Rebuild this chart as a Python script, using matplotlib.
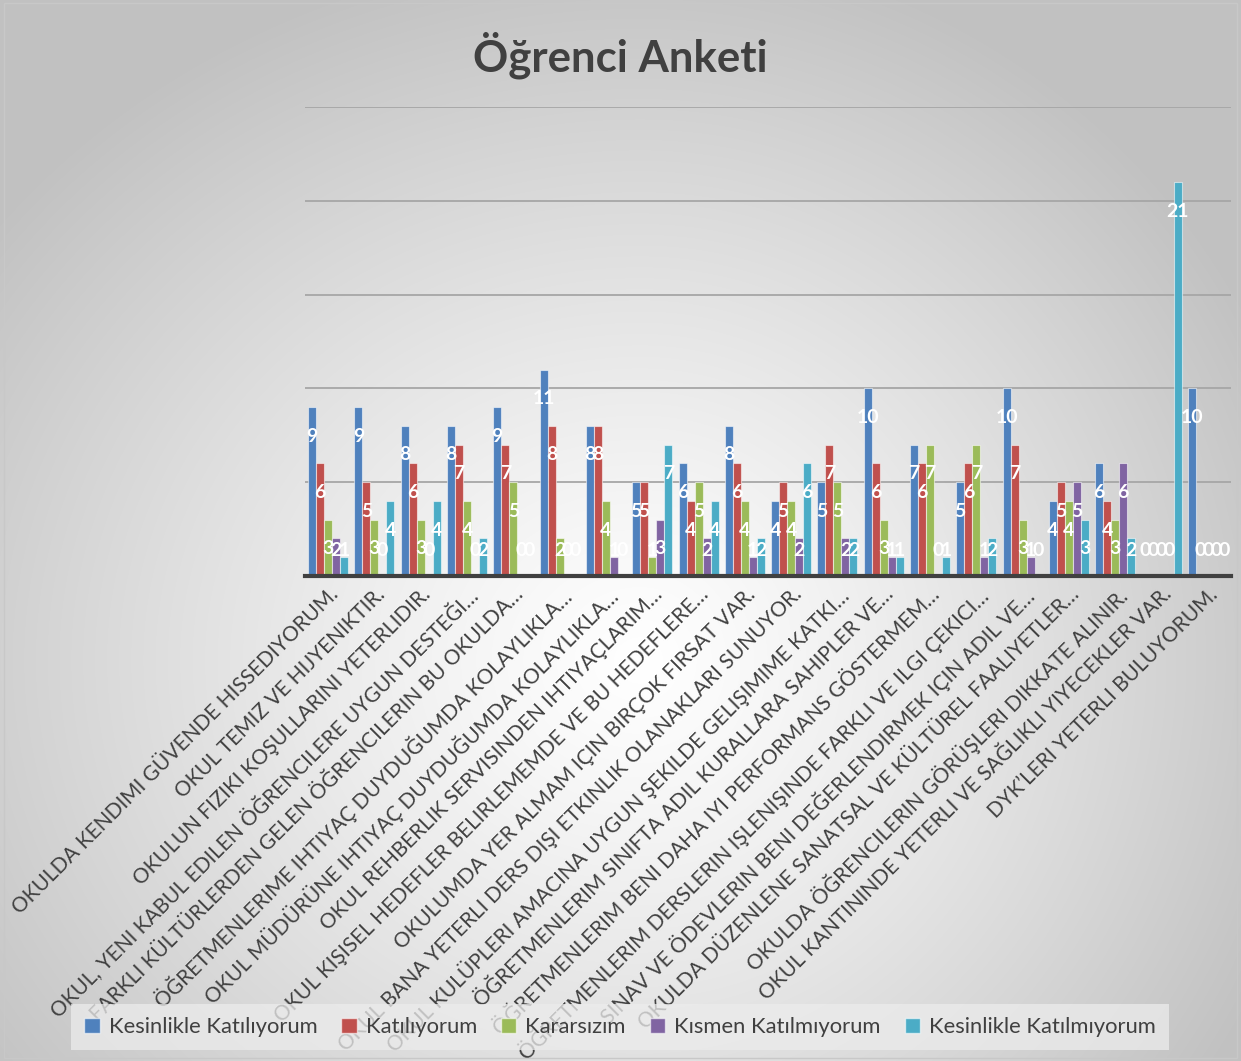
import numpy as np
import matplotlib
matplotlib.use("Agg")
import matplotlib.pyplot as plt
from matplotlib.patches import Patch, Rectangle

plt.rcParams['font.family'] = ['Lato', 'DejaVu Sans']

# survey statements (x axis)
categories = [
    "OKULDA KENDIMI GÜVENDE HISSEDIYORUM.",
    "OKUL TEMIZ VE HIJYENIKTIR.",
    "OKULUN FIZIKI KOŞULLARINI YETERLIDIR.",
    "OKUL, YENI KABUL EDILEN ÖĞRENCILERE UYGUN DESTEĞI…",
    "FARKLI KÜLTÜRLERDEN GELEN ÖĞRENCILERIN BU OKULDA…",
    "ÖĞRETMENLERIME IHTIYAÇ DUYDUĞUMDA KOLAYLIKLA…",
    "OKUL MÜDÜRÜNE IHTIYAÇ DUYDUĞUMDA KOLAYLIKLA…",
    "OKUL REHBERLIK SERVISINDEN IHTIYAÇLARIM…",
    "OKUL KIŞISEL HEDEFLER BELIRLEMEMDE VE BU HEDEFLERE…",
    "OKULUMDA YER ALMAM IÇIN BIRÇOK FIRSAT VAR.",
    "OKUL BANA YETERLI DERS DIŞI ETKINLIK OLANAKLARI SUNUYOR.",
    "OKUL KULÜPLERI AMACINA UYGUN ŞEKILDE GELIŞIMIME KATKI…",
    "ÖĞRETMENLERIM SINIFTA ADIL KURALLARA SAHIPLER VE…",
    "ÖĞRETMENLERIM BENI DAHA IYI PERFORMANS GÖSTERMEM…",
    "ÖĞRETMENLERIM DERSLERIN IŞLENIŞINDE FARKLI VE ILGI ÇEKICI…",
    "SINAV VE ÖDEVLERIN BENI DEĞERLENDIRMEK IÇIN ADIL VE…",
    "OKULDA DÜZENLENE SANATSAL VE KÜLTÜREL FAALIYETLER…",
    "OKULDA ÖĞRENCILERIN GÖRÜŞLERI DIKKATE ALINIR.",
    "OKUL KANTININDE YETERLI VE SAĞLIKLI YIYECEKLER VAR.",
    "DYK’LERI YETERLI BULUYORUM.",
]

series_names = ["Kesinlikle Katılıyorum", "Katılıyorum", "Kararsızım",
                "Kısmen Katılmıyorum", "Kesinlikle Katılmıyorum"]

kesinlikle_katiliyorum = [9, 9, 8, 8, 9, 11, 8, 5, 6, 8, 4, 5, 10, 7, 5, 10, 4, 6, 0, 10]
katiliyorum = [6, 5, 6, 7, 7, 8, 8, 5, 4, 6, 5, 7, 6, 6, 6, 7, 5, 4, 0, 0]
kararsizim = [3, 3, 3, 4, 5, 2, 4, 1, 5, 4, 4, 5, 3, 7, 7, 3, 4, 3, 0, 0]
kismen_katilmiyorum = [2, 0, 0, 0, 0, 0, 1, 3, 2, 1, 2, 2, 1, 0, 1, 1, 5, 6, 0, 0]
kesinlikle_katilmiyorum = [1, 4, 4, 2, 0, 0, 0, 7, 4, 2, 6, 2, 1, 1, 2, 0, 3, 2, 21, 0]

colors = ["#4F81BD", "#C0504D", "#9BBB59", "#8064A2", "#4BACC6"]

series = [kesinlikle_katiliyorum, katiliyorum, kararsizim,
          kismen_katilmiyorum, kesinlikle_katilmiyorum]

W, H = 1241, 1061
fig = plt.figure(figsize=(W / 100, H / 100), dpi=100)

# gradient background (grey corners, white centre)
bg = fig.add_axes([0, 0, 1, 1], zorder=-10)
yy, xx = np.mgrid[0:H, 0:W]
cx, cy = 640, 660
ax_x = np.where(xx > cx, 700, 820)
r = np.sqrt(((xx - cx) / ax_x) ** 2 + ((yy - cy) / 720) ** 2)
shade = 255 - 62 * np.clip(r, 0, 1) ** 1.2
img = np.dstack([shade, shade, shade]) / 255.0
bg.imshow(img, extent=[0, 1, 0, 1], aspect='auto', origin='upper')
bg.set_xlim(0, 1)
bg.set_ylim(0, 1)
bg.add_patch(Rectangle((0.0035, 0.003), 0.993, 0.994, fill=False,
                       edgecolor="#c8c8c8", linewidth=1))
bg.axis('off')

ax = fig.add_axes([305 / W, 1 - 576 / H, 926 / W, (576 - 107) / H])
ax.set_facecolor('none')

x = np.arange(len(categories))
bw = 0.173
for k, (vals, col, name) in enumerate(zip(series, colors, series_names)):
    pos = x + (k - 2) * bw
    ax.bar(pos, vals, width=bw, color=col, edgecolor=(1, 1, 1, 0.55),
           linewidth=0.8, zorder=3, label=name)
    # value labels, inside the top of each bar
    for px, v in zip(pos, vals):
        ax.text(px, max(v - 1.55, 1.37), str(v), ha='center', va='center',
                color='white', fontsize=14, fontweight='bold', zorder=5)

ax.set_xlim(-0.5, len(categories) - 0.5)
ax.set_ylim(0, 25)
ax.set_yticks([5, 10, 15, 20, 25])
ax.yaxis.grid(True, color="#a6a6a6", linewidth=1.3, zorder=0)
ax.tick_params(axis='y', length=0, labelleft=False)
for s in ['top', 'right', 'left']:
    ax.spines[s].set_visible(False)
ax.spines['bottom'].set_color("#404040")
ax.spines['bottom'].set_linewidth(3)
ax.spines['bottom'].set_zorder(4)

ax.set_xticks(x)
ax.set_xticklabels(categories, rotation=45, ha='right', va='top',
                   rotation_mode='anchor', fontsize=15, color="#404040")
ax.tick_params(axis='x', length=0, pad=6)

fig.text(0.5, 1 - 55 / H, "Öğrenci Anketi", ha='center', va='center',
         fontsize=31.5, fontweight='bold', color="#404040")

handles = [Patch(facecolor=c, edgecolor=(1, 1, 1, 0.6), label=n)
           for c, n in zip(colors, series_names)]
leg = fig.legend(handles=handles, ncol=5, loc='center',
                 bbox_to_anchor=(620 / W, 1 - 1027 / H), fontsize=15.8,
                 handlelength=0.7, handleheight=0.7, handletextpad=0.4,
                 columnspacing=1.1, frameon=True, fancybox=False,
                 borderpad=0.6)
leg.get_frame().set_facecolor("#ececec")
leg.get_frame().set_alpha(0.75)
leg.get_frame().set_edgecolor('none')
for t in leg.get_texts():
    t.set_color("#404040")
leg.set_zorder(10)

fig.savefig("out.png", dpi=100)
